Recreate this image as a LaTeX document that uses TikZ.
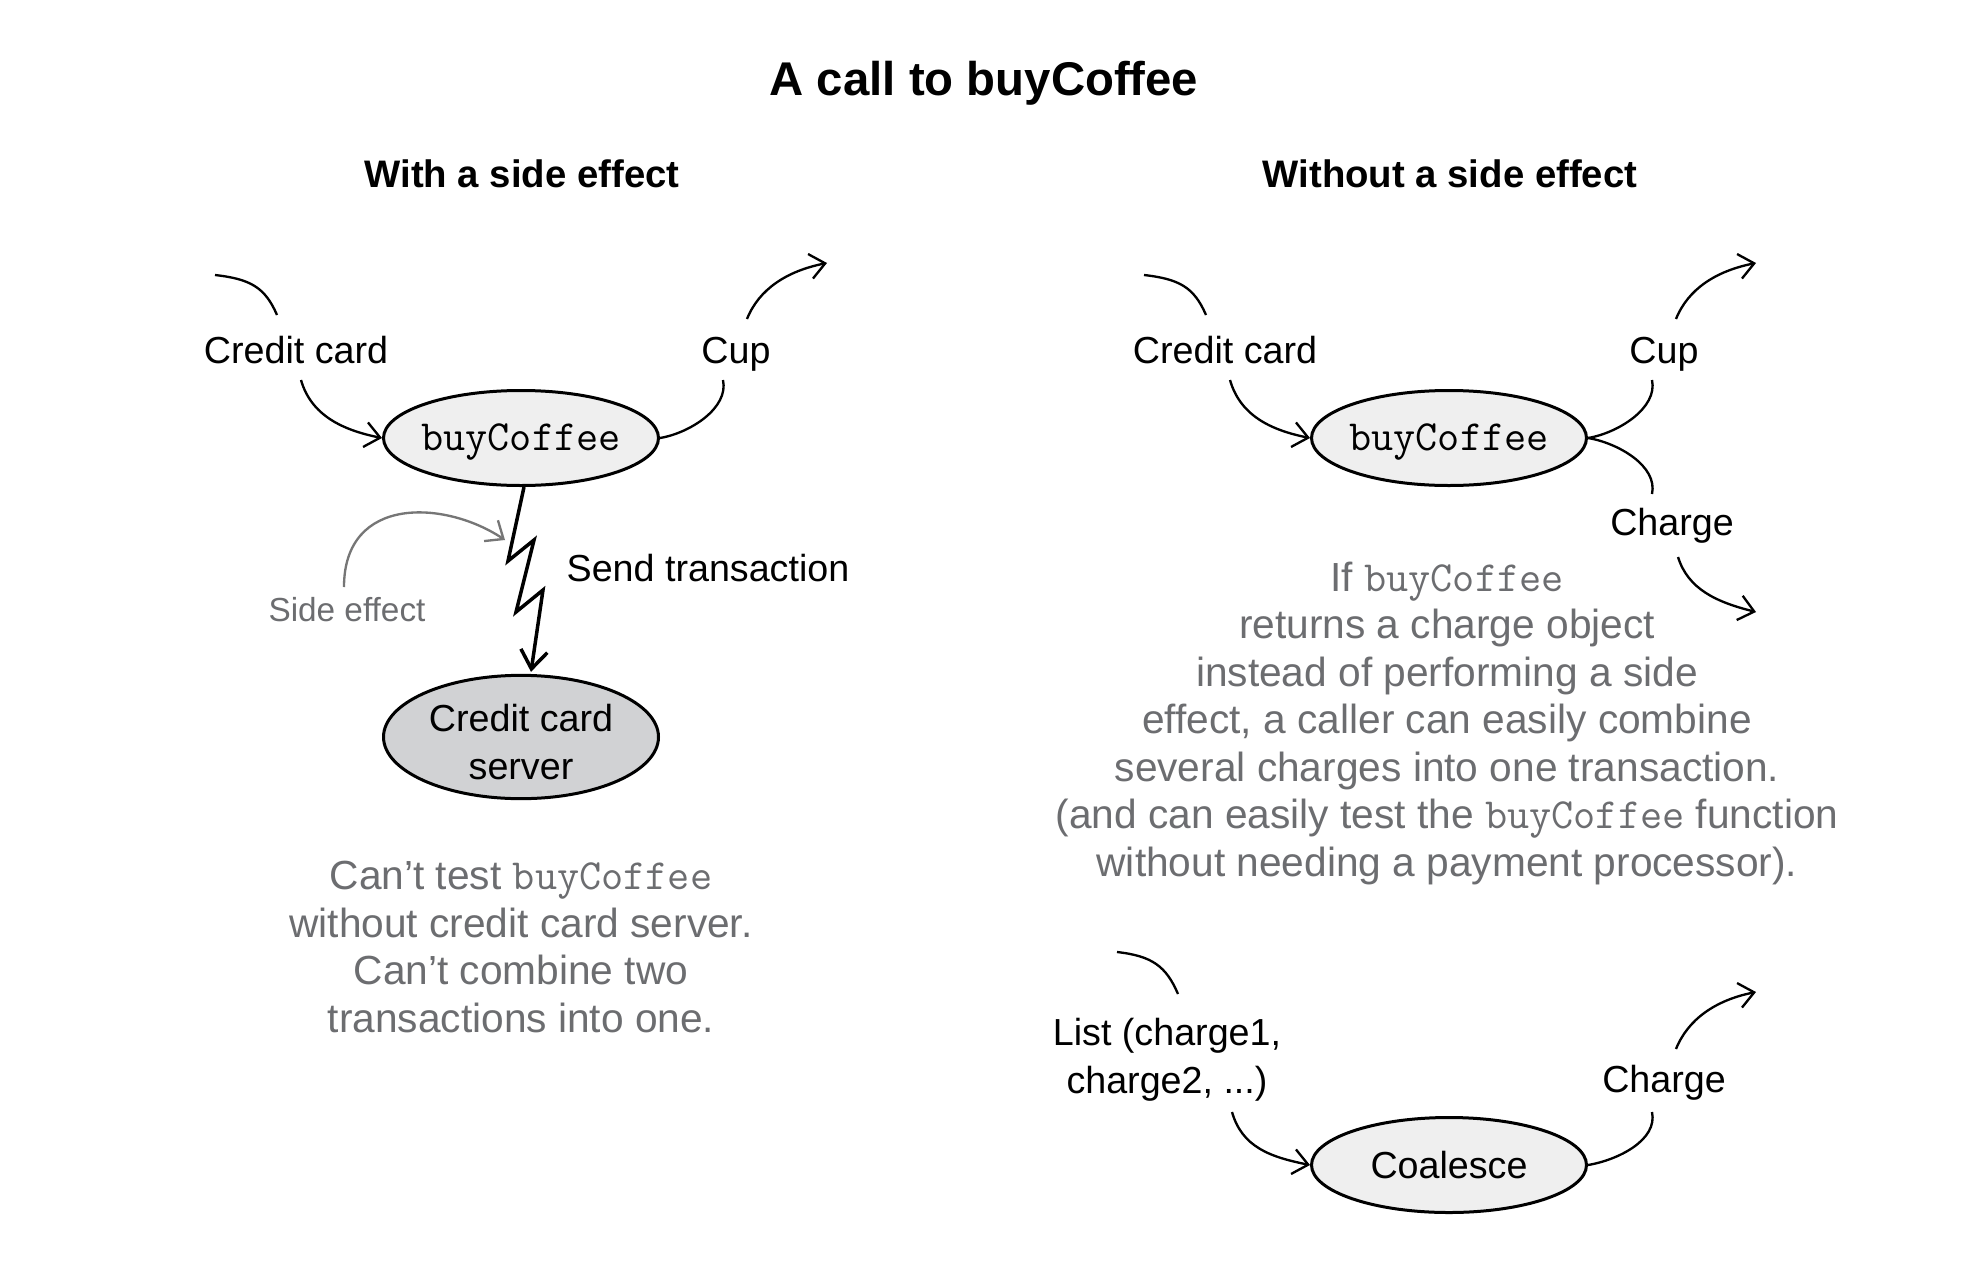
\documentclass[tikz,border=0pt]{standalone}
\usepackage{fontspec}
\setmainfont{Liberation Sans}
\usetikzlibrary{shapes.geometric,arrows.meta,calc}
\definecolor{txtgray}{RGB}{108,109,112}
\definecolor{ellfill}{RGB}{239,239,239}
\definecolor{srvfill}{RGB}{209,210,212}
\definecolor{arrgray}{RGB}{118,118,118}
\newcommand\mycode[1]{{\fontsize{12.9}{14.25}\selectfont\ttfamily #1}}
\begin{document}
\begin{tikzpicture}[x=0.3pt,y=-0.3pt,
  lbl/.style={font=\fontsize{11.3}{14.4}\selectfont, inner sep=0pt, anchor=base},
  ttl/.style={font=\fontsize{14.2}{17}\selectfont\bfseries, inner sep=0pt, anchor=base},
  sub/.style={font=\fontsize{11.5}{14}\selectfont\bfseries, inner sep=0pt, anchor=base},
  note/.style={font=\fontsize{12.2}{14.25}\selectfont, text=txtgray, align=center, inner sep=0pt},
  ell/.style={ellipse, draw, line width=0.9pt, fill=ellfill, minimum width=82.5pt,
    minimum height=28.5pt, inner sep=0pt, font=\fontsize{11.3}{14.4}\selectfont},
  inlbl/.style={inner sep=0pt, align=center, font=\fontsize{11.3}{14.4}\selectfont},
  codelbl/.style={inner sep=0pt, font=\fontsize{12.9}{14}\selectfont\ttfamily, yshift=-1.1pt},
  conn/.style={line width=0.7pt},
  arr/.style={conn, -{Straight Barb[length=4.5pt,width=7.5pt]}},
]
\path[use as bounding box, fill=white] (0,0) rectangle (1986,1288);

% titles
\node[ttl] (title) at (984,95.5) {A call to buyCoffee};
\node[sub] (subL) at (522,187) {With a side effect};
\node[sub] (subR) at (1450,187) {Without a side effect};

% ---------- left ----------
\node[lbl] (ccL) at (296,363) {Credit card};
\node[lbl] (cupL) at (736,363) {Cup};
\node[ell, label={[codelbl]center:buyCoffee}] (bcL) at (521,438) {};
\node[ell, minimum height=37pt, fill=srvfill,
  label={[inlbl, yshift=-1.5pt]center:{Credit card\\server}}] (srv) at (521,737) {};
\node[lbl] (sendL) at (708,581) {Send transaction};
\node[lbl, font=\fontsize{10}{12}\selectfont, text=txtgray] (seL) at (347,621) {Side effect};
\node[note] (noteL) at (521,947) {Can’t test \mycode{buyCoffee}\\without credit card server.\\Can’t combine two\\transactions into one.};

\coordinate (aL1) at (215,275);
\coordinate (aL2) at (277,315);
\coordinate (aL3) at (301,380);
\coordinate (uL1) at (723,380);
\coordinate (uL2) at (747,319);
\coordinate (uL3) at (827,263);
\draw[conn] (aL1) .. controls +(35,4) and +(-12,-28) .. (aL2);
\draw[arr] (aL3) .. controls +(10,35) and +(-40,-8) .. (bcL.west);
\draw[conn] (bcL.east) .. controls +(30,-5) and +(6,28) .. (uL1);
\draw[arr] (uL2) .. controls +(12,-30) and +(-40,8) .. (uL3);

\draw[line width=1.05pt, line join=miter, -{Straight Barb[length=5.5pt,width=8pt]}]
  ($(bcL.south)+(3,0)$) -- (508,561) -- (534,540) -- (516,612) -- (543,590) -- ($(srv.north)+(10,-2)$);

\coordinate (se1) at (344,587);
\coordinate (se2) at (505,540);
\draw[conn, draw=arrgray, -{Straight Barb[length=4.5pt,width=7.5pt]}] (se1) .. controls +(0,-92) and +(-60,-40) .. (se2);

% ---------- right ----------
\node[lbl] (ccR) at (1225,363) {Credit card};
\node[lbl] (cupR) at (1664,363) {Cup};
\node[ell, label={[codelbl]center:buyCoffee}] (bcR) at (1449,438) {};
\node[lbl] (chR) at (1672,535) {Charge};
\node[note] (noteR) at (1447,723) {If \mycode{buyCoffee}\\returns a charge object\\instead of performing a side\\effect, a caller can easily combine\\several charges into one transaction.\\(and can easily test the \mycode{buyCoffee} function\\without needing a payment processor).};

\coordinate (aR1) at (1144,275);
\coordinate (aR2) at (1206,315);
\coordinate (aR3) at (1230,380);
\coordinate (uR1) at (1652,380);
\coordinate (uR2) at (1676,319);
\coordinate (uR3) at (1756,263);
\coordinate (hR1) at (1652,494);
\coordinate (hR2) at (1678,557);
\coordinate (hR3) at (1756,612);
\draw[conn] (aR1) .. controls +(35,4) and +(-12,-28) .. (aR2);
\draw[arr] (aR3) .. controls +(10,35) and +(-40,-8) .. (bcR.west);
\draw[conn] (bcR.east) .. controls +(30,-5) and +(6,28) .. (uR1);
\draw[arr] (uR2) .. controls +(12,-30) and +(-40,8) .. (uR3);
\draw[conn] (bcR.east) .. controls +(30,5) and +(6,-28) .. (hR1);
\draw[arr] (hR2) .. controls +(10,32) and +(-40,-10) .. (hR3);

% ---------- bottom ----------
\node[lbl, anchor=center, align=center] (list) at (1167,1060) {List (charge1,\\charge2, ...)};
\node[ell] (coal) at (1449,1165) {Coalesce};
\node[lbl] (chB) at (1664,1092.5) {Charge};
\coordinate (bL1) at (1117,952);
\coordinate (bL2) at (1178,994);
\coordinate (bL3) at (1232,1112);
\coordinate (bC1) at (1652,1112);
\coordinate (bC2) at (1676,1049);
\coordinate (bC3) at (1756,992);
\draw[conn] (bL1) .. controls +(35,4) and +(-12,-28) .. (bL2);
\draw[arr] (bL3) .. controls +(10,35) and +(-40,-8) .. (coal.west);
\draw[conn] (coal.east) .. controls +(30,-5) and +(6,28) .. (bC1);
\draw[arr] (bC2) .. controls +(12,-30) and +(-40,8) .. (bC3);
\end{tikzpicture}
\end{document}
